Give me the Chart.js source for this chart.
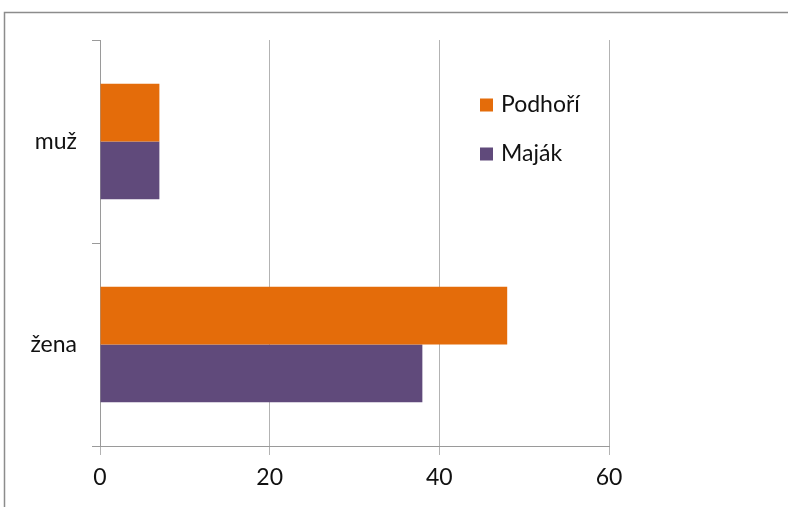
<!DOCTYPE html>
<html>
<head>
<meta charset="utf-8">
<script src="https://cdn.jsdelivr.net/npm/chart.js@4"></script>
<style>
    html, body { margin: 0; padding: 0; background: #fff; overflow: hidden; }
    #box { position: relative; width: 788px; height: 507px; }
</style>
</head>
<body>
<div id="box"><canvas id="graf" width="788" height="507"></canvas></div>
<script>
// données
const kategorie = ["muž", "žena"];
const podhori = [7, 48];
const majak = [7, 38];
const nazvySerii = ["Podhoří", "Maják"];
const barvy = ["#E46C0A", "#604A7B"];

const pismo = "Lato, 'Liberation Sans', sans-serif";

// rámeček kolem grafu
const ramecek = {
    id: "ramecek",
    beforeDraw(chart) {
        const ctx = chart.ctx;
        ctx.save();
        ctx.fillStyle = "#fff";
        ctx.fillRect(0, 0, chart.width, chart.height);
        ctx.strokeStyle = "#8c8c8c";
        ctx.lineWidth = 1.5;
        ctx.strokeRect(4.5, 12.5, chart.width + 20, chart.height + 20);
        ctx.restore();
    }
};

// legenda uvnitř plochy
const legenda = {
    id: "legenda",
    afterDraw(chart) {
        const ctx = chart.ctx;
        const a = chart.chartArea;
        ctx.save();
        ctx.font = "23px " + pismo;
        ctx.textBaseline = "middle";
        chart.data.datasets.forEach((ds, i) => {
            const x = a.left + 380;
            const y = a.top + 65 + i * 49;
            ctx.fillStyle = ds.backgroundColor;
            ctx.fillRect(x, y - 6.5, 13, 13);
            ctx.fillStyle = "#111";
            ctx.fillText(ds.label, x + 21, y);
        });
        ctx.restore();
    }
};

new Chart(document.getElementById("graf"), {
    type: "bar",
    data: {
        labels: kategorie,
        datasets: [
            { label: nazvySerii[0], data: podhori, backgroundColor: barvy[0] },
            { label: nazvySerii[1], data: majak, backgroundColor: barvy[1] }
        ]
    },
    options: {
        indexAxis: "y",
        responsive: false,
        animation: false,
        devicePixelRatio: 1,
        layout: { padding: { left: 0, top: 40, right: 179, bottom: 0 } },
        datasets: { bar: { categoryPercentage: 0.57, barPercentage: 1 } },
        plugins: { legend: { display: false }, tooltip: { enabled: false } },
        scales: {
            x: {
                min: 0,
                max: 60,
                ticks: { stepSize: 20, color: "#111", font: { family: pismo, size: 23 }, padding: 9 },
                grid: { color: "#b3b3b3", lineWidth: 1, tickLength: 9 },
                border: { color: "#9a9a9a", width: 1 },
                afterFit(s) { s.height = 61; }
            },
            y: {
                ticks: { color: "#111", font: { family: pismo, size: 23 }, padding: 15 },
                grid: { drawOnChartArea: false, color: "#9a9a9a", tickLength: 8, offset: true },
                border: { color: "#9a9a9a", width: 1 },
                afterFit(s) { s.width = 100; }
            }
        }
    },
    plugins: [ramecek, legenda]
});
</script>
</body>
</html>
